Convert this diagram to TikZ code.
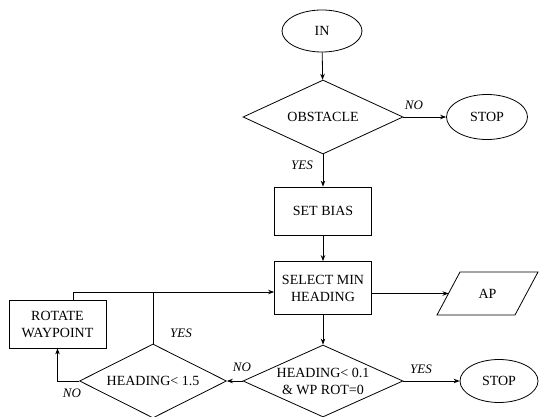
\documentclass[tikz,border=0pt]{standalone}
\usepackage{fontspec}
\setmainfont{Liberation Serif}
\usetikzlibrary{shapes.geometric,arrows.meta}
\begin{document}
\begin{tikzpicture}[x=1pt,y=-1pt,
  base/.style={draw, line width=0.8pt, align=center, font=\fontsize{14}{17}\selectfont, inner sep=0pt},
  term/.style={base, ellipse},
  procbox/.style={base, rectangle, minimum width=97pt},
  decide/.style={base, diamond, aspect=2.2},
  iobody/.style={align=center, font=\fontsize{14}{17}\selectfont, inner sep=0pt, outer sep=0pt, minimum width=78pt, minimum height=43pt},
  ioline/.style={line width=0.8pt, line join=miter},
  conn/.style={line width=0.8pt, -{Stealth[length=6pt,width=4.5pt]}},
  plain/.style={line width=0.8pt},
  lbl/.style={font=\itshape\fontsize{13}{15}\selectfont, inner sep=0pt}]
\useasboundingbox (0,0) rectangle (539,417);
\node[term, minimum width=80pt, minimum height=42pt] (in) at (322,31) {IN};
\node[decide, minimum width=160pt, minimum height=74pt] (obs) at (323,117) {OBSTACLE};
\node[term, minimum width=81pt, minimum height=45pt] (stop1) at (487,117) {STOP};
\node[procbox, minimum height=48pt] (bias) at (323,211) {SET BIAS};
\node[procbox, minimum height=53pt] (sel) at (323,288) {SELECT MIN\\HEADING};
\node[iobody] (ap) at (487.5,293.5) {AP};
\draw[ioline] ([xshift=-11.5pt]ap.south west) -- ([xshift=-11.5pt]ap.south east) -- ([xshift=11.5pt]ap.north east) -- ([xshift=11.5pt]ap.north west) -- cycle;
\node[decide, minimum width=160pt, minimum height=72pt] (d2) at (323,381) {HEADING< 0.1\\\& WP ROT=0};
\node[term, minimum width=78pt, minimum height=43pt] (stop2) at (499,381) {STOP};
\node[decide, minimum width=147pt, minimum height=74pt] (d3) at (153,381) {HEADING< 1.5};
\node[procbox, minimum height=48pt] (rot) at (57.5,324) {ROTATE\\WAYPOINT};
\coordinate (selin) at ([yshift=-4pt]sel.west);
\coordinate (rotout) at ([xshift=15.5pt]rot.north);
\draw[conn] (in) -- (obs);
\draw[conn] (obs) -- (stop1);
\draw[conn] (obs) -- (bias);
\draw[conn] (bias) -- (sel);
\draw[conn] (sel.east |- ap.west) -- (ap.west);
\draw[conn] (sel) -- (d2);
\draw[conn] (d2) -- (stop2);
\draw[conn] (d2.west) -- (d3.east);
\draw[conn] (d3.west) -| (rot.south);
\draw[conn] (rotout) |- (selin);
\draw[plain] (d3.north) -- (d3.north |- selin);
\node[lbl] (lno1) at (414,105) {NO};
\node[lbl] (lyes1) at (302,165) {YES};
\node[lbl] (lno2) at (242,367) {NO};
\node[lbl] (lyes2) at (421,369) {YES};
\node[lbl] (lyes3) at (181,333) {YES};
\node[lbl] (lno3) at (72,393) {NO};
\end{tikzpicture}
\end{document}
